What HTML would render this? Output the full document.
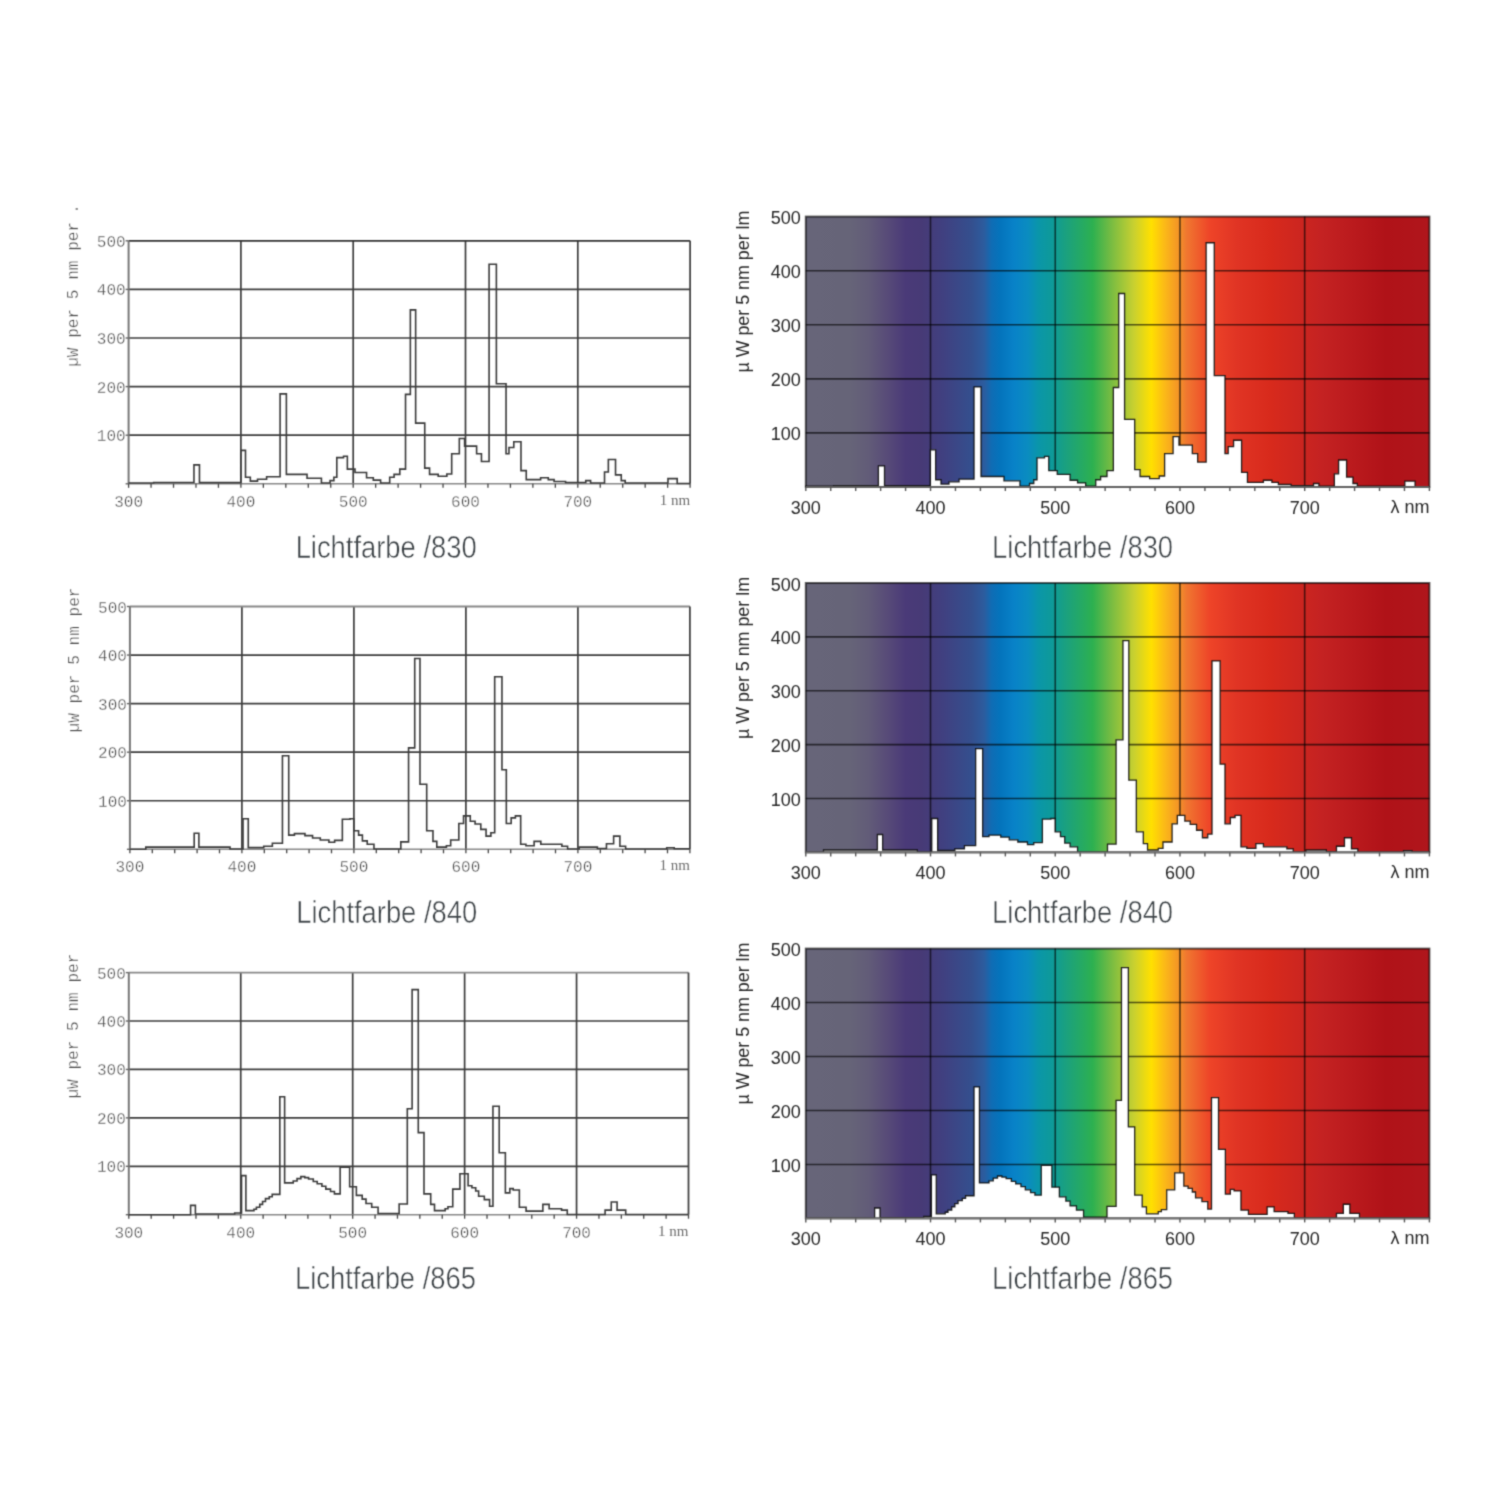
<!DOCTYPE html>
<html><head><meta charset="utf-8"><title>Lichtfarbe spectra</title>
<style>
html,body{margin:0;padding:0;background:#fff;width:1500px;height:1500px;overflow:hidden}
svg{display:block;will-change:transform}
.lm{font-family:"Liberation Mono",monospace;font-size:16px;fill:#505050;stroke:#fff;stroke-width:0.3px;paint-order:fill stroke}
.lm2{font-family:"Liberation Mono",monospace;font-size:16px;fill:#4a4a4a;stroke:#fff;stroke-width:0.3px;paint-order:fill stroke}
.ls{font-family:"Liberation Serif",serif;font-size:15px;fill:#6e6e6e}
.rs{font-family:"Liberation Sans",sans-serif;font-size:18px;fill:#262626}
.tt{font-family:"Liberation Sans",sans-serif;font-size:31px;fill:#3c4246;stroke:#fff;stroke-width:0.5px;paint-order:fill stroke}
</style></head><body>
<svg width="1500" height="1500" viewBox="0 0 1500 1500">
<defs><linearGradient id="spec" x1="0" y1="0" x2="1" y2="0"><stop offset="0.0000" stop-color="#676579"/><stop offset="0.0700" stop-color="#666478"/><stop offset="0.1000" stop-color="#625c78"/><stop offset="0.1320" stop-color="#574a78"/><stop offset="0.1600" stop-color="#4a3a78"/><stop offset="0.1860" stop-color="#473a76"/><stop offset="0.2200" stop-color="#404080"/><stop offset="0.2660" stop-color="#344f8e"/><stop offset="0.2860" stop-color="#2c5c9e"/><stop offset="0.2980" stop-color="#0f6cb4"/><stop offset="0.3120" stop-color="#0474bc"/><stop offset="0.3340" stop-color="#0882c8"/><stop offset="0.3560" stop-color="#0a8cc0"/><stop offset="0.3740" stop-color="#0a96a8"/><stop offset="0.3960" stop-color="#0e9a98"/><stop offset="0.4160" stop-color="#1aa080"/><stop offset="0.4600" stop-color="#2db050"/><stop offset="0.4900" stop-color="#78bc42"/><stop offset="0.5260" stop-color="#c8d030"/><stop offset="0.5540" stop-color="#ffe000"/><stop offset="0.5760" stop-color="#fbb818"/><stop offset="0.6000" stop-color="#f39028"/><stop offset="0.6100" stop-color="#f07830"/><stop offset="0.6480" stop-color="#ee4428"/><stop offset="0.6920" stop-color="#e03424"/><stop offset="0.7440" stop-color="#d82a1c"/><stop offset="0.8280" stop-color="#c42222"/><stop offset="0.9300" stop-color="#b01218"/><stop offset="1.0000" stop-color="#b0161c"/></linearGradient><filter id="soft" x="0" y="0" width="1500" height="1500" filterUnits="userSpaceOnUse" color-interpolation-filters="sRGB"><feConvolveMatrix order="3" kernelMatrix="1 4 1 4 16 4 1 4 1" edgeMode="duplicate" preserveAlpha="true"/></filter></defs>
<rect width="1500" height="1500" fill="#fff"/>
<g filter="url(#soft)">
<rect width="1500" height="1500" fill="#fff"/>
<line x1="128.60" y1="435.20" x2="690.10" y2="435.20" stroke="#3c3c3c" stroke-width="1.7"/>
<line x1="128.60" y1="386.60" x2="690.10" y2="386.60" stroke="#3c3c3c" stroke-width="1.7"/>
<line x1="128.60" y1="338.00" x2="690.10" y2="338.00" stroke="#3c3c3c" stroke-width="1.7"/>
<line x1="128.60" y1="289.40" x2="690.10" y2="289.40" stroke="#3c3c3c" stroke-width="1.7"/>
<line x1="240.90" y1="240.80" x2="240.90" y2="483.80" stroke="#3c3c3c" stroke-width="1.7"/>
<line x1="353.20" y1="240.80" x2="353.20" y2="483.80" stroke="#3c3c3c" stroke-width="1.7"/>
<line x1="465.50" y1="240.80" x2="465.50" y2="483.80" stroke="#3c3c3c" stroke-width="1.7"/>
<line x1="577.80" y1="240.80" x2="577.80" y2="483.80" stroke="#3c3c3c" stroke-width="1.7"/>
<line x1="128.60" y1="240.80" x2="690.10" y2="240.80" stroke="#333" stroke-width="1.8"/>
<line x1="690.10" y1="240.80" x2="690.10" y2="483.80" stroke="#444" stroke-width="1.8"/>
<line x1="128.60" y1="240.80" x2="128.60" y2="483.80" stroke="#777" stroke-width="2"/>
<line x1="128.60" y1="483.80" x2="690.10" y2="483.80" stroke="#888" stroke-width="1.6"/>
<line x1="125.60" y1="483.80" x2="128.60" y2="483.80" stroke="#666" stroke-width="1.4"/>
<line x1="125.60" y1="435.20" x2="128.60" y2="435.20" stroke="#666" stroke-width="1.4"/>
<line x1="125.60" y1="386.60" x2="128.60" y2="386.60" stroke="#666" stroke-width="1.4"/>
<line x1="125.60" y1="338.00" x2="128.60" y2="338.00" stroke="#666" stroke-width="1.4"/>
<line x1="125.60" y1="289.40" x2="128.60" y2="289.40" stroke="#666" stroke-width="1.4"/>
<line x1="125.60" y1="240.80" x2="128.60" y2="240.80" stroke="#666" stroke-width="1.4"/>
<line x1="128.60" y1="483.80" x2="128.60" y2="487.80" stroke="#444" stroke-width="1.3"/>
<line x1="151.06" y1="483.80" x2="151.06" y2="487.80" stroke="#444" stroke-width="1.3"/>
<line x1="173.52" y1="483.80" x2="173.52" y2="487.80" stroke="#444" stroke-width="1.3"/>
<line x1="195.98" y1="483.80" x2="195.98" y2="487.80" stroke="#444" stroke-width="1.3"/>
<line x1="218.44" y1="483.80" x2="218.44" y2="487.80" stroke="#444" stroke-width="1.3"/>
<line x1="240.90" y1="483.80" x2="240.90" y2="487.80" stroke="#444" stroke-width="1.3"/>
<line x1="263.36" y1="483.80" x2="263.36" y2="487.80" stroke="#444" stroke-width="1.3"/>
<line x1="285.82" y1="483.80" x2="285.82" y2="487.80" stroke="#444" stroke-width="1.3"/>
<line x1="308.28" y1="483.80" x2="308.28" y2="487.80" stroke="#444" stroke-width="1.3"/>
<line x1="330.74" y1="483.80" x2="330.74" y2="487.80" stroke="#444" stroke-width="1.3"/>
<line x1="353.20" y1="483.80" x2="353.20" y2="487.80" stroke="#444" stroke-width="1.3"/>
<line x1="375.66" y1="483.80" x2="375.66" y2="487.80" stroke="#444" stroke-width="1.3"/>
<line x1="398.12" y1="483.80" x2="398.12" y2="487.80" stroke="#444" stroke-width="1.3"/>
<line x1="420.58" y1="483.80" x2="420.58" y2="487.80" stroke="#444" stroke-width="1.3"/>
<line x1="443.04" y1="483.80" x2="443.04" y2="487.80" stroke="#444" stroke-width="1.3"/>
<line x1="465.50" y1="483.80" x2="465.50" y2="487.80" stroke="#444" stroke-width="1.3"/>
<line x1="487.96" y1="483.80" x2="487.96" y2="487.80" stroke="#444" stroke-width="1.3"/>
<line x1="510.42" y1="483.80" x2="510.42" y2="487.80" stroke="#444" stroke-width="1.3"/>
<line x1="532.88" y1="483.80" x2="532.88" y2="487.80" stroke="#444" stroke-width="1.3"/>
<line x1="555.34" y1="483.80" x2="555.34" y2="487.80" stroke="#444" stroke-width="1.3"/>
<line x1="577.80" y1="483.80" x2="577.80" y2="487.80" stroke="#444" stroke-width="1.3"/>
<line x1="600.26" y1="483.80" x2="600.26" y2="487.80" stroke="#444" stroke-width="1.3"/>
<line x1="622.72" y1="483.80" x2="622.72" y2="487.80" stroke="#444" stroke-width="1.3"/>
<line x1="645.18" y1="483.80" x2="645.18" y2="487.80" stroke="#444" stroke-width="1.3"/>
<line x1="667.64" y1="483.80" x2="667.64" y2="487.80" stroke="#444" stroke-width="1.3"/>
<line x1="690.10" y1="483.80" x2="690.10" y2="487.80" stroke="#444" stroke-width="1.3"/>
<path d="M128.60,482.93 L153.64,482.93 L153.64,482.49 L193.96,482.49 L193.96,464.85 L199.46,464.85 L199.46,482.63 L240.79,482.63 L240.79,450.41 L245.50,450.41 L245.50,477.29 L250.33,477.29 L250.33,481.13 L257.52,481.13 L257.52,479.18 L266.62,479.18 L266.62,476.80 L280.09,476.80 L280.09,393.89 L286.38,393.89 L286.38,474.37 L307.04,474.37 L307.04,478.21 L321.42,478.21 L321.42,483.02 L330.07,483.02 L330.07,480.64 L333.88,480.64 L333.88,477.29 L336.80,477.29 L336.80,457.60 L343.54,457.60 L343.54,456.20 L347.36,456.20 L347.36,469.12 L355.00,469.12 L355.00,472.48 L366.56,472.48 L366.56,477.73 L373.30,477.73 L373.30,480.16 L380.60,480.16 L380.60,483.02 L389.70,483.02 L389.70,477.29 L394.08,477.29 L394.08,474.37 L399.80,474.37 L399.80,469.12 L405.53,469.12 L405.53,394.38 L410.36,394.38 L410.36,309.91 L415.64,309.91 L415.64,423.10 L424.74,423.10 L424.74,468.15 L429.56,468.15 L429.56,474.37 L438.21,474.37 L438.21,476.32 L446.86,476.32 L446.86,473.93 L451.69,473.93 L451.69,453.77 L459.32,453.77 L459.32,438.46 L464.60,438.46 L464.60,446.13 L476.62,446.13 L476.62,453.77 L481.45,453.77 L481.45,461.44 L489.08,461.44 L489.08,264.32 L496.38,264.32 L496.38,383.68 L506.04,383.68 L506.04,453.77 L508.96,453.77 L508.96,447.54 L513.79,447.54 L513.79,441.81 L520.98,441.81 L520.98,470.58 L526.25,470.58 L526.25,479.67 L540.63,479.67 L540.63,477.73 L548.27,477.73 L548.27,479.67 L554.10,479.67 L554.10,481.56 L565.56,481.56 L565.56,482.54 L579.04,482.54 L579.04,482.54 L585.77,482.54 L585.77,480.64 L590.60,480.64 L590.60,483.02 L604.53,483.02 L604.53,471.99 L608.35,471.99 L608.35,459.55 L615.53,459.55 L615.53,474.86 L621.26,474.86 L621.26,480.64 L625.19,480.64 L625.19,483.02 L667.98,483.02 L667.98,478.60 L677.19,478.60 L677.19,483.46 L690.10,483.46 L690.10,483.46 L690.10,483.46" fill="none" stroke="#3a3a3a" stroke-width="1.6" stroke-linejoin="miter"/>
<text x="125.60" y="441.20" text-anchor="end" class="lm">100</text>
<text x="125.60" y="392.60" text-anchor="end" class="lm">200</text>
<text x="125.60" y="344.00" text-anchor="end" class="lm">300</text>
<text x="125.60" y="295.40" text-anchor="end" class="lm">400</text>
<text x="125.60" y="246.80" text-anchor="end" class="lm">500</text>
<text x="128.60" y="506.80" text-anchor="middle" class="lm">300</text>
<text x="240.90" y="506.80" text-anchor="middle" class="lm">400</text>
<text x="353.20" y="506.80" text-anchor="middle" class="lm">500</text>
<text x="465.50" y="506.80" text-anchor="middle" class="lm">600</text>
<text x="577.80" y="506.80" text-anchor="middle" class="lm">700</text>
<text x="690.10" y="504.80" text-anchor="end" class="ls">1 nm</text>
<text transform="translate(77.60,366.80) rotate(-90)" class="lm2" textLength="145" lengthAdjust="spacingAndGlyphs">µW per 5 nm per</text>
<text transform="translate(77.60,213.80) rotate(-90)" class="lm2">.</text>
<text x="386.15" y="557.80" text-anchor="middle" class="tt" textLength="181" lengthAdjust="spacingAndGlyphs">Lichtfarbe /830</text>
<line x1="129.90" y1="800.74" x2="689.90" y2="800.74" stroke="#3c3c3c" stroke-width="1.7"/>
<line x1="129.90" y1="752.18" x2="689.90" y2="752.18" stroke="#3c3c3c" stroke-width="1.7"/>
<line x1="129.90" y1="703.62" x2="689.90" y2="703.62" stroke="#3c3c3c" stroke-width="1.7"/>
<line x1="129.90" y1="655.06" x2="689.90" y2="655.06" stroke="#3c3c3c" stroke-width="1.7"/>
<line x1="241.90" y1="606.50" x2="241.90" y2="849.30" stroke="#3c3c3c" stroke-width="1.7"/>
<line x1="353.90" y1="606.50" x2="353.90" y2="849.30" stroke="#3c3c3c" stroke-width="1.7"/>
<line x1="465.90" y1="606.50" x2="465.90" y2="849.30" stroke="#3c3c3c" stroke-width="1.7"/>
<line x1="577.90" y1="606.50" x2="577.90" y2="849.30" stroke="#3c3c3c" stroke-width="1.7"/>
<line x1="129.90" y1="606.50" x2="689.90" y2="606.50" stroke="#888" stroke-width="1.8"/>
<line x1="689.90" y1="606.50" x2="689.90" y2="849.30" stroke="#444" stroke-width="1.8"/>
<line x1="129.90" y1="606.50" x2="129.90" y2="849.30" stroke="#777" stroke-width="2"/>
<line x1="129.90" y1="849.30" x2="689.90" y2="849.30" stroke="#888" stroke-width="1.6"/>
<line x1="126.90" y1="849.30" x2="129.90" y2="849.30" stroke="#666" stroke-width="1.4"/>
<line x1="126.90" y1="800.74" x2="129.90" y2="800.74" stroke="#666" stroke-width="1.4"/>
<line x1="126.90" y1="752.18" x2="129.90" y2="752.18" stroke="#666" stroke-width="1.4"/>
<line x1="126.90" y1="703.62" x2="129.90" y2="703.62" stroke="#666" stroke-width="1.4"/>
<line x1="126.90" y1="655.06" x2="129.90" y2="655.06" stroke="#666" stroke-width="1.4"/>
<line x1="126.90" y1="606.50" x2="129.90" y2="606.50" stroke="#666" stroke-width="1.4"/>
<line x1="129.90" y1="849.30" x2="129.90" y2="853.30" stroke="#444" stroke-width="1.3"/>
<line x1="152.30" y1="849.30" x2="152.30" y2="853.30" stroke="#444" stroke-width="1.3"/>
<line x1="174.70" y1="849.30" x2="174.70" y2="853.30" stroke="#444" stroke-width="1.3"/>
<line x1="197.10" y1="849.30" x2="197.10" y2="853.30" stroke="#444" stroke-width="1.3"/>
<line x1="219.50" y1="849.30" x2="219.50" y2="853.30" stroke="#444" stroke-width="1.3"/>
<line x1="241.90" y1="849.30" x2="241.90" y2="853.30" stroke="#444" stroke-width="1.3"/>
<line x1="264.30" y1="849.30" x2="264.30" y2="853.30" stroke="#444" stroke-width="1.3"/>
<line x1="286.70" y1="849.30" x2="286.70" y2="853.30" stroke="#444" stroke-width="1.3"/>
<line x1="309.10" y1="849.30" x2="309.10" y2="853.30" stroke="#444" stroke-width="1.3"/>
<line x1="331.50" y1="849.30" x2="331.50" y2="853.30" stroke="#444" stroke-width="1.3"/>
<line x1="353.90" y1="849.30" x2="353.90" y2="853.30" stroke="#444" stroke-width="1.3"/>
<line x1="376.30" y1="849.30" x2="376.30" y2="853.30" stroke="#444" stroke-width="1.3"/>
<line x1="398.70" y1="849.30" x2="398.70" y2="853.30" stroke="#444" stroke-width="1.3"/>
<line x1="421.10" y1="849.30" x2="421.10" y2="853.30" stroke="#444" stroke-width="1.3"/>
<line x1="443.50" y1="849.30" x2="443.50" y2="853.30" stroke="#444" stroke-width="1.3"/>
<line x1="465.90" y1="849.30" x2="465.90" y2="853.30" stroke="#444" stroke-width="1.3"/>
<line x1="488.30" y1="849.30" x2="488.30" y2="853.30" stroke="#444" stroke-width="1.3"/>
<line x1="510.70" y1="849.30" x2="510.70" y2="853.30" stroke="#444" stroke-width="1.3"/>
<line x1="533.10" y1="849.30" x2="533.10" y2="853.30" stroke="#444" stroke-width="1.3"/>
<line x1="555.50" y1="849.30" x2="555.50" y2="853.30" stroke="#444" stroke-width="1.3"/>
<line x1="577.90" y1="849.30" x2="577.90" y2="853.30" stroke="#444" stroke-width="1.3"/>
<line x1="600.30" y1="849.30" x2="600.30" y2="853.30" stroke="#444" stroke-width="1.3"/>
<line x1="622.70" y1="849.30" x2="622.70" y2="853.30" stroke="#444" stroke-width="1.3"/>
<line x1="645.10" y1="849.30" x2="645.10" y2="853.30" stroke="#444" stroke-width="1.3"/>
<line x1="667.50" y1="849.30" x2="667.50" y2="853.30" stroke="#444" stroke-width="1.3"/>
<line x1="689.90" y1="849.30" x2="689.90" y2="853.30" stroke="#444" stroke-width="1.3"/>
<path d="M129.90,849.30 L145.80,849.30 L145.80,847.11 L194.19,847.11 L194.19,833.18 L198.89,833.18 L198.89,847.11 L230.03,847.11 L230.03,849.06 L243.02,849.06 L243.02,818.76 L248.28,818.76 L248.28,847.60 L263.74,847.60 L263.74,846.19 L272.36,846.19 L272.36,843.28 L282.44,843.28 L282.44,755.82 L288.72,755.82 L288.72,835.12 L294.43,835.12 L294.43,833.66 L304.96,833.66 L304.96,835.61 L312.57,835.61 L312.57,837.99 L320.30,837.99 L320.30,839.93 L328.92,839.93 L328.92,842.31 L334.64,842.31 L334.64,840.41 L342.36,840.41 L342.36,819.24 L349.98,819.24 L349.98,818.76 L353.79,818.76 L353.79,830.80 L358.60,830.80 L358.60,835.12 L362.41,835.12 L362.41,840.90 L367.23,840.90 L367.23,844.25 L373.95,844.25 L373.95,849.06 L374.96,849.06 L374.96,849.06 L400.83,849.06 L400.83,841.87 L408.56,841.87 L408.56,747.86 L414.72,747.86 L414.72,658.46 L419.98,658.46 L419.98,784.18 L426.70,784.18 L426.70,830.80 L432.97,830.80 L432.97,841.38 L436.78,841.38 L436.78,847.11 L446.41,847.11 L446.41,845.71 L450.67,845.71 L450.67,839.93 L458.84,839.93 L458.84,823.56 L463.55,823.56 L463.55,815.89 L470.27,815.89 L470.27,821.18 L475.08,821.18 L475.08,824.05 L480.80,824.05 L480.80,829.34 L486.06,829.34 L486.06,836.09 L490.88,836.09 L490.88,832.74 L494.68,832.74 L494.68,676.72 L501.96,676.72 L501.96,769.76 L506.33,769.76 L506.33,823.56 L511.15,823.56 L511.15,817.83 L515.40,817.83 L515.40,815.89 L520.67,815.89 L520.67,844.25 L525.93,844.25 L525.93,845.71 L534.11,845.71 L534.11,841.38 L540.83,841.38 L540.83,844.25 L561.88,844.25 L561.88,846.19 L567.60,846.19 L567.60,849.06 L579.13,849.06 L579.13,847.11 L597.39,847.11 L597.39,848.57 L606.46,848.57 L606.46,843.76 L613.63,843.76 L613.63,836.09 L619.90,836.09 L619.90,846.19 L625.61,846.19 L625.61,849.06 L666.72,849.06 L666.72,847.70 L674.22,847.70 L674.22,848.77 L689.90,848.77" fill="none" stroke="#3a3a3a" stroke-width="1.6" stroke-linejoin="miter"/>
<text x="126.90" y="806.74" text-anchor="end" class="lm">100</text>
<text x="126.90" y="758.18" text-anchor="end" class="lm">200</text>
<text x="126.90" y="709.62" text-anchor="end" class="lm">300</text>
<text x="126.90" y="661.06" text-anchor="end" class="lm">400</text>
<text x="126.90" y="612.50" text-anchor="end" class="lm">500</text>
<text x="129.90" y="872.30" text-anchor="middle" class="lm">300</text>
<text x="241.90" y="872.30" text-anchor="middle" class="lm">400</text>
<text x="353.90" y="872.30" text-anchor="middle" class="lm">500</text>
<text x="465.90" y="872.30" text-anchor="middle" class="lm">600</text>
<text x="577.90" y="872.30" text-anchor="middle" class="lm">700</text>
<text x="689.90" y="870.30" text-anchor="end" class="ls">1 nm</text>
<text transform="translate(78.90,732.50) rotate(-90)" class="lm2" textLength="145" lengthAdjust="spacingAndGlyphs">µW per 5 nm per</text>
<text x="386.70" y="923.30" text-anchor="middle" class="tt" textLength="181" lengthAdjust="spacingAndGlyphs">Lichtfarbe /840</text>
<line x1="128.80" y1="1166.28" x2="688.50" y2="1166.28" stroke="#3c3c3c" stroke-width="1.7"/>
<line x1="128.80" y1="1117.86" x2="688.50" y2="1117.86" stroke="#3c3c3c" stroke-width="1.7"/>
<line x1="128.80" y1="1069.44" x2="688.50" y2="1069.44" stroke="#3c3c3c" stroke-width="1.7"/>
<line x1="128.80" y1="1021.02" x2="688.50" y2="1021.02" stroke="#3c3c3c" stroke-width="1.7"/>
<line x1="240.74" y1="972.60" x2="240.74" y2="1214.70" stroke="#3c3c3c" stroke-width="1.7"/>
<line x1="352.68" y1="972.60" x2="352.68" y2="1214.70" stroke="#3c3c3c" stroke-width="1.7"/>
<line x1="464.62" y1="972.60" x2="464.62" y2="1214.70" stroke="#3c3c3c" stroke-width="1.7"/>
<line x1="576.56" y1="972.60" x2="576.56" y2="1214.70" stroke="#3c3c3c" stroke-width="1.7"/>
<line x1="128.80" y1="972.60" x2="688.50" y2="972.60" stroke="#888" stroke-width="1.8"/>
<line x1="688.50" y1="972.60" x2="688.50" y2="1214.70" stroke="#444" stroke-width="1.8"/>
<line x1="128.80" y1="972.60" x2="128.80" y2="1214.70" stroke="#777" stroke-width="2"/>
<line x1="128.80" y1="1214.70" x2="688.50" y2="1214.70" stroke="#888" stroke-width="1.6"/>
<line x1="125.80" y1="1214.70" x2="128.80" y2="1214.70" stroke="#666" stroke-width="1.4"/>
<line x1="125.80" y1="1166.28" x2="128.80" y2="1166.28" stroke="#666" stroke-width="1.4"/>
<line x1="125.80" y1="1117.86" x2="128.80" y2="1117.86" stroke="#666" stroke-width="1.4"/>
<line x1="125.80" y1="1069.44" x2="128.80" y2="1069.44" stroke="#666" stroke-width="1.4"/>
<line x1="125.80" y1="1021.02" x2="128.80" y2="1021.02" stroke="#666" stroke-width="1.4"/>
<line x1="125.80" y1="972.60" x2="128.80" y2="972.60" stroke="#666" stroke-width="1.4"/>
<line x1="128.80" y1="1214.70" x2="128.80" y2="1218.70" stroke="#444" stroke-width="1.3"/>
<line x1="151.19" y1="1214.70" x2="151.19" y2="1218.70" stroke="#444" stroke-width="1.3"/>
<line x1="173.58" y1="1214.70" x2="173.58" y2="1218.70" stroke="#444" stroke-width="1.3"/>
<line x1="195.96" y1="1214.70" x2="195.96" y2="1218.70" stroke="#444" stroke-width="1.3"/>
<line x1="218.35" y1="1214.70" x2="218.35" y2="1218.70" stroke="#444" stroke-width="1.3"/>
<line x1="240.74" y1="1214.70" x2="240.74" y2="1218.70" stroke="#444" stroke-width="1.3"/>
<line x1="263.13" y1="1214.70" x2="263.13" y2="1218.70" stroke="#444" stroke-width="1.3"/>
<line x1="285.52" y1="1214.70" x2="285.52" y2="1218.70" stroke="#444" stroke-width="1.3"/>
<line x1="307.90" y1="1214.70" x2="307.90" y2="1218.70" stroke="#444" stroke-width="1.3"/>
<line x1="330.29" y1="1214.70" x2="330.29" y2="1218.70" stroke="#444" stroke-width="1.3"/>
<line x1="352.68" y1="1214.70" x2="352.68" y2="1218.70" stroke="#444" stroke-width="1.3"/>
<line x1="375.07" y1="1214.70" x2="375.07" y2="1218.70" stroke="#444" stroke-width="1.3"/>
<line x1="397.46" y1="1214.70" x2="397.46" y2="1218.70" stroke="#444" stroke-width="1.3"/>
<line x1="419.84" y1="1214.70" x2="419.84" y2="1218.70" stroke="#444" stroke-width="1.3"/>
<line x1="442.23" y1="1214.70" x2="442.23" y2="1218.70" stroke="#444" stroke-width="1.3"/>
<line x1="464.62" y1="1214.70" x2="464.62" y2="1218.70" stroke="#444" stroke-width="1.3"/>
<line x1="487.01" y1="1214.70" x2="487.01" y2="1218.70" stroke="#444" stroke-width="1.3"/>
<line x1="509.40" y1="1214.70" x2="509.40" y2="1218.70" stroke="#444" stroke-width="1.3"/>
<line x1="531.78" y1="1214.70" x2="531.78" y2="1218.70" stroke="#444" stroke-width="1.3"/>
<line x1="554.17" y1="1214.70" x2="554.17" y2="1218.70" stroke="#444" stroke-width="1.3"/>
<line x1="576.56" y1="1214.70" x2="576.56" y2="1218.70" stroke="#444" stroke-width="1.3"/>
<line x1="598.95" y1="1214.70" x2="598.95" y2="1218.70" stroke="#444" stroke-width="1.3"/>
<line x1="621.34" y1="1214.70" x2="621.34" y2="1218.70" stroke="#444" stroke-width="1.3"/>
<line x1="643.72" y1="1214.70" x2="643.72" y2="1218.70" stroke="#444" stroke-width="1.3"/>
<line x1="666.11" y1="1214.70" x2="666.11" y2="1218.70" stroke="#444" stroke-width="1.3"/>
<line x1="688.50" y1="1214.70" x2="688.50" y2="1218.70" stroke="#444" stroke-width="1.3"/>
<path d="M128.80,1214.70 L190.59,1214.70 L190.59,1205.35 L195.40,1205.35 L195.40,1213.97 L234.70,1213.97 L234.70,1213.01 L241.52,1213.01 L241.52,1175.67 L245.89,1175.67 L245.89,1210.63 L253.95,1210.63 L253.95,1209.18 L256.41,1209.18 L256.41,1207.29 L259.77,1207.29 L259.77,1204.39 L262.57,1204.39 L262.57,1201.53 L265.48,1201.53 L265.48,1198.67 L269.28,1198.67 L269.28,1196.74 L272.20,1196.74 L272.20,1194.36 L279.81,1194.36 L279.81,1096.75 L284.62,1096.75 L284.62,1182.89 L293.24,1182.89 L293.24,1180.95 L297.05,1180.95 L297.05,1178.58 L300.85,1178.58 L300.85,1176.64 L304.77,1176.64 L304.77,1177.61 L308.58,1177.61 L308.58,1179.06 L313.28,1179.06 L313.28,1181.44 L317.20,1181.44 L317.20,1183.81 L321.90,1183.81 L321.90,1186.23 L325.81,1186.23 L325.81,1189.09 L330.52,1189.09 L330.52,1191.51 L334.43,1191.51 L334.43,1193.88 L340.14,1193.88 L340.14,1167.10 L349.66,1167.10 L349.66,1186.71 L356.37,1186.71 L356.37,1195.33 L362.19,1195.33 L362.19,1199.16 L366.00,1199.16 L366.00,1203.47 L371.71,1203.47 L371.71,1207.29 L378.09,1207.29 L378.09,1213.49 L399.14,1213.49 L399.14,1203.95 L407.31,1203.95 L407.31,1108.71 L412.12,1108.71 L412.12,989.64 L418.28,989.64 L418.28,1132.63 L423.99,1132.63 L423.99,1193.88 L430.70,1193.88 L430.70,1204.39 L434.51,1204.39 L434.51,1210.63 L445.14,1210.63 L445.14,1208.70 L447.94,1208.70 L447.94,1206.81 L452.75,1206.81 L452.75,1189.09 L459.92,1189.09 L459.92,1173.79 L468.09,1173.79 L468.09,1185.74 L471.90,1185.74 L471.90,1187.68 L475.70,1187.68 L475.70,1191.02 L478.61,1191.02 L478.61,1196.25 L484.32,1196.25 L484.32,1199.64 L489.58,1199.64 L489.58,1206.32 L492.94,1206.32 L492.94,1106.29 L499.21,1106.29 L499.21,1152.72 L505.37,1152.72 L505.37,1192.91 L509.84,1192.91 L509.84,1188.60 L513.20,1188.60 L513.20,1190.05 L519.36,1190.05 L519.36,1207.29 L526.08,1207.29 L526.08,1211.12 L542.87,1211.12 L542.87,1204.39 L549.13,1204.39 L549.13,1208.70 L561.56,1208.70 L561.56,1210.15 L567.27,1210.15 L567.27,1214.46 L605.10,1214.46 L605.10,1210.15 L611.26,1210.15 L611.26,1202.01 L617.08,1202.01 L617.08,1210.15 L625.70,1210.15 L625.70,1214.46 L688.50,1214.46" fill="none" stroke="#3a3a3a" stroke-width="1.6" stroke-linejoin="miter"/>
<text x="125.80" y="1172.28" text-anchor="end" class="lm">100</text>
<text x="125.80" y="1123.86" text-anchor="end" class="lm">200</text>
<text x="125.80" y="1075.44" text-anchor="end" class="lm">300</text>
<text x="125.80" y="1027.02" text-anchor="end" class="lm">400</text>
<text x="125.80" y="978.60" text-anchor="end" class="lm">500</text>
<text x="128.80" y="1237.70" text-anchor="middle" class="lm">300</text>
<text x="240.74" y="1237.70" text-anchor="middle" class="lm">400</text>
<text x="352.68" y="1237.70" text-anchor="middle" class="lm">500</text>
<text x="464.62" y="1237.70" text-anchor="middle" class="lm">600</text>
<text x="576.56" y="1237.70" text-anchor="middle" class="lm">700</text>
<text x="688.50" y="1235.70" text-anchor="end" class="ls">1 nm</text>
<text transform="translate(77.80,1098.60) rotate(-90)" class="lm2" textLength="145" lengthAdjust="spacingAndGlyphs">µW per 5 nm per</text>
<text x="385.45" y="1288.70" text-anchor="middle" class="tt" textLength="181" lengthAdjust="spacingAndGlyphs">Lichtfarbe /865</text>
<rect x="805.80" y="216.60" width="623.60" height="270.40" fill="url(#spec)"/>
<path d="M805.80,487.00 L805.80,486.03 L833.61,486.03 L833.61,485.54 L878.39,485.54 L878.39,465.91 L884.50,465.91 L884.50,485.70 L930.40,485.70 L930.40,449.85 L935.63,449.85 L935.63,479.75 L941.00,479.75 L941.00,484.03 L948.98,484.03 L948.98,481.86 L959.08,481.86 L959.08,479.21 L974.05,479.21 L974.05,386.95 L981.03,386.95 L981.03,476.51 L1003.98,476.51 L1003.98,480.78 L1019.94,480.78 L1019.94,486.13 L1029.55,486.13 L1029.55,483.48 L1033.79,483.48 L1033.79,479.75 L1037.03,479.75 L1037.03,457.85 L1044.51,457.85 L1044.51,456.28 L1048.75,456.28 L1048.75,470.67 L1057.24,470.67 L1057.24,474.40 L1070.08,474.40 L1070.08,480.24 L1077.56,480.24 L1077.56,482.94 L1085.67,482.94 L1085.67,486.13 L1095.77,486.13 L1095.77,479.75 L1100.64,479.75 L1100.64,476.51 L1107.00,476.51 L1107.00,470.67 L1113.36,470.67 L1113.36,387.49 L1118.72,387.49 L1118.72,293.50 L1124.58,293.50 L1124.58,419.45 L1134.69,419.45 L1134.69,469.59 L1140.05,469.59 L1140.05,476.51 L1149.65,476.51 L1149.65,478.67 L1159.26,478.67 L1159.26,476.02 L1164.62,476.02 L1164.62,453.58 L1173.10,453.58 L1173.10,436.54 L1178.96,436.54 L1178.96,445.09 L1192.31,445.09 L1192.31,453.58 L1197.67,453.58 L1197.67,462.12 L1206.15,462.12 L1206.15,242.77 L1214.26,242.77 L1214.26,375.60 L1224.98,375.60 L1224.98,453.58 L1228.23,453.58 L1228.23,446.66 L1233.59,446.66 L1233.59,440.27 L1241.57,440.27 L1241.57,472.29 L1247.43,472.29 L1247.43,482.40 L1263.40,482.40 L1263.40,480.24 L1271.88,480.24 L1271.88,482.40 L1278.36,482.40 L1278.36,484.51 L1291.09,484.51 L1291.09,485.59 L1306.05,485.59 L1306.05,485.59 L1313.54,485.59 L1313.54,483.48 L1318.90,483.48 L1318.90,486.13 L1334.36,486.13 L1334.36,473.86 L1338.60,473.86 L1338.60,460.01 L1346.59,460.01 L1346.59,477.05 L1352.95,477.05 L1352.95,483.48 L1357.31,483.48 L1357.31,486.13 L1404.83,486.13 L1404.83,481.21 L1415.06,481.21 L1415.06,486.62 L1429.40,486.62 L1429.40,486.62 L1429.40,486.62 L1429.40,487.00Z" fill="#fff" stroke="none"/>
<line x1="805.80" y1="432.92" x2="1429.40" y2="432.92" stroke="rgba(0,0,0,0.62)" stroke-width="1.6"/>
<line x1="805.80" y1="378.84" x2="1429.40" y2="378.84" stroke="rgba(0,0,0,0.62)" stroke-width="1.6"/>
<line x1="805.80" y1="324.76" x2="1429.40" y2="324.76" stroke="rgba(0,0,0,0.62)" stroke-width="1.6"/>
<line x1="805.80" y1="270.68" x2="1429.40" y2="270.68" stroke="rgba(0,0,0,0.62)" stroke-width="1.6"/>
<line x1="930.52" y1="216.60" x2="930.52" y2="487.00" stroke="rgba(0,0,0,0.62)" stroke-width="1.6"/>
<line x1="1055.24" y1="216.60" x2="1055.24" y2="487.00" stroke="rgba(0,0,0,0.62)" stroke-width="1.6"/>
<line x1="1179.96" y1="216.60" x2="1179.96" y2="487.00" stroke="rgba(0,0,0,0.62)" stroke-width="1.6"/>
<line x1="1304.68" y1="216.60" x2="1304.68" y2="487.00" stroke="rgba(0,0,0,0.62)" stroke-width="1.6"/>
<path d="M805.80,487.00 L805.80,486.03 L833.61,486.03 L833.61,485.54 L878.39,485.54 L878.39,465.91 L884.50,465.91 L884.50,485.70 L930.40,485.70 L930.40,449.85 L935.63,449.85 L935.63,479.75 L941.00,479.75 L941.00,484.03 L948.98,484.03 L948.98,481.86 L959.08,481.86 L959.08,479.21 L974.05,479.21 L974.05,386.95 L981.03,386.95 L981.03,476.51 L1003.98,476.51 L1003.98,480.78 L1019.94,480.78 L1019.94,486.13 L1029.55,486.13 L1029.55,483.48 L1033.79,483.48 L1033.79,479.75 L1037.03,479.75 L1037.03,457.85 L1044.51,457.85 L1044.51,456.28 L1048.75,456.28 L1048.75,470.67 L1057.24,470.67 L1057.24,474.40 L1070.08,474.40 L1070.08,480.24 L1077.56,480.24 L1077.56,482.94 L1085.67,482.94 L1085.67,486.13 L1095.77,486.13 L1095.77,479.75 L1100.64,479.75 L1100.64,476.51 L1107.00,476.51 L1107.00,470.67 L1113.36,470.67 L1113.36,387.49 L1118.72,387.49 L1118.72,293.50 L1124.58,293.50 L1124.58,419.45 L1134.69,419.45 L1134.69,469.59 L1140.05,469.59 L1140.05,476.51 L1149.65,476.51 L1149.65,478.67 L1159.26,478.67 L1159.26,476.02 L1164.62,476.02 L1164.62,453.58 L1173.10,453.58 L1173.10,436.54 L1178.96,436.54 L1178.96,445.09 L1192.31,445.09 L1192.31,453.58 L1197.67,453.58 L1197.67,462.12 L1206.15,462.12 L1206.15,242.77 L1214.26,242.77 L1214.26,375.60 L1224.98,375.60 L1224.98,453.58 L1228.23,453.58 L1228.23,446.66 L1233.59,446.66 L1233.59,440.27 L1241.57,440.27 L1241.57,472.29 L1247.43,472.29 L1247.43,482.40 L1263.40,482.40 L1263.40,480.24 L1271.88,480.24 L1271.88,482.40 L1278.36,482.40 L1278.36,484.51 L1291.09,484.51 L1291.09,485.59 L1306.05,485.59 L1306.05,485.59 L1313.54,485.59 L1313.54,483.48 L1318.90,483.48 L1318.90,486.13 L1334.36,486.13 L1334.36,473.86 L1338.60,473.86 L1338.60,460.01 L1346.59,460.01 L1346.59,477.05 L1352.95,477.05 L1352.95,483.48 L1357.31,483.48 L1357.31,486.13 L1404.83,486.13 L1404.83,481.21 L1415.06,481.21 L1415.06,486.62 L1429.40,486.62 L1429.40,486.62 L1429.40,486.62 L1429.40,487.00Z" fill="#fff" stroke="rgba(0,0,0,0.85)" stroke-width="1.3"/>
<rect x="805.80" y="216.60" width="623.60" height="270.40" fill="none" stroke="rgba(0,0,0,0.62)" stroke-width="2"/>
<line x1="805.80" y1="487.00" x2="1429.40" y2="487.00" stroke="#777" stroke-width="1.6"/>
<line x1="805.80" y1="487.00" x2="805.80" y2="491.00" stroke="#555" stroke-width="1.4"/>
<line x1="830.74" y1="487.00" x2="830.74" y2="491.00" stroke="#555" stroke-width="1.4"/>
<line x1="855.69" y1="487.00" x2="855.69" y2="491.00" stroke="#555" stroke-width="1.4"/>
<line x1="880.63" y1="487.00" x2="880.63" y2="491.00" stroke="#555" stroke-width="1.4"/>
<line x1="905.58" y1="487.00" x2="905.58" y2="491.00" stroke="#555" stroke-width="1.4"/>
<line x1="930.52" y1="487.00" x2="930.52" y2="491.00" stroke="#555" stroke-width="1.4"/>
<line x1="955.46" y1="487.00" x2="955.46" y2="491.00" stroke="#555" stroke-width="1.4"/>
<line x1="980.41" y1="487.00" x2="980.41" y2="491.00" stroke="#555" stroke-width="1.4"/>
<line x1="1005.35" y1="487.00" x2="1005.35" y2="491.00" stroke="#555" stroke-width="1.4"/>
<line x1="1030.30" y1="487.00" x2="1030.30" y2="491.00" stroke="#555" stroke-width="1.4"/>
<line x1="1055.24" y1="487.00" x2="1055.24" y2="491.00" stroke="#555" stroke-width="1.4"/>
<line x1="1080.18" y1="487.00" x2="1080.18" y2="491.00" stroke="#555" stroke-width="1.4"/>
<line x1="1105.13" y1="487.00" x2="1105.13" y2="491.00" stroke="#555" stroke-width="1.4"/>
<line x1="1130.07" y1="487.00" x2="1130.07" y2="491.00" stroke="#555" stroke-width="1.4"/>
<line x1="1155.02" y1="487.00" x2="1155.02" y2="491.00" stroke="#555" stroke-width="1.4"/>
<line x1="1179.96" y1="487.00" x2="1179.96" y2="491.00" stroke="#555" stroke-width="1.4"/>
<line x1="1204.90" y1="487.00" x2="1204.90" y2="491.00" stroke="#555" stroke-width="1.4"/>
<line x1="1229.85" y1="487.00" x2="1229.85" y2="491.00" stroke="#555" stroke-width="1.4"/>
<line x1="1254.79" y1="487.00" x2="1254.79" y2="491.00" stroke="#555" stroke-width="1.4"/>
<line x1="1279.74" y1="487.00" x2="1279.74" y2="491.00" stroke="#555" stroke-width="1.4"/>
<line x1="1304.68" y1="487.00" x2="1304.68" y2="491.00" stroke="#555" stroke-width="1.4"/>
<line x1="1329.62" y1="487.00" x2="1329.62" y2="491.00" stroke="#555" stroke-width="1.4"/>
<line x1="1354.57" y1="487.00" x2="1354.57" y2="491.00" stroke="#555" stroke-width="1.4"/>
<line x1="1379.51" y1="487.00" x2="1379.51" y2="491.00" stroke="#555" stroke-width="1.4"/>
<line x1="1404.46" y1="487.00" x2="1404.46" y2="491.00" stroke="#555" stroke-width="1.4"/>
<line x1="1429.40" y1="487.00" x2="1429.40" y2="491.00" stroke="#555" stroke-width="1.4"/>
<text x="800.80" y="440.42" text-anchor="end" class="rs">100</text>
<text x="800.80" y="386.34" text-anchor="end" class="rs">200</text>
<text x="800.80" y="332.26" text-anchor="end" class="rs">300</text>
<text x="800.80" y="278.18" text-anchor="end" class="rs">400</text>
<text x="800.80" y="224.10" text-anchor="end" class="rs">500</text>
<text x="805.80" y="514.00" text-anchor="middle" class="rs">300</text>
<text x="930.52" y="514.00" text-anchor="middle" class="rs">400</text>
<text x="1055.24" y="514.00" text-anchor="middle" class="rs">500</text>
<text x="1179.96" y="514.00" text-anchor="middle" class="rs">600</text>
<text x="1304.68" y="514.00" text-anchor="middle" class="rs">700</text>
<text x="1429.40" y="513.00" text-anchor="end" class="rs">λ nm</text>
<text transform="translate(748.80,291.60) rotate(-90)" text-anchor="middle" class="rs" textLength="162" lengthAdjust="spacingAndGlyphs">µ W per 5 nm per lm</text>
<text x="1082.60" y="558.00" text-anchor="middle" class="tt" textLength="181" lengthAdjust="spacingAndGlyphs">Lichtfarbe /830</text>
<rect x="805.80" y="583.00" width="623.60" height="269.40" fill="url(#spec)"/>
<path d="M805.80,852.40 L805.80,852.40 L823.51,852.40 L823.51,849.98 L877.39,849.98 L877.39,834.51 L882.63,834.51 L882.63,849.98 L917.30,849.98 L917.30,852.13 L931.77,852.13 L931.77,818.51 L937.63,818.51 L937.63,850.51 L954.84,850.51 L954.84,848.95 L964.44,848.95 L964.44,845.72 L975.67,845.72 L975.67,748.68 L982.65,748.68 L982.65,836.67 L989.01,836.67 L989.01,835.05 L1000.74,835.05 L1000.74,837.21 L1009.22,837.21 L1009.22,839.85 L1017.82,839.85 L1017.82,842.00 L1027.43,842.00 L1027.43,844.64 L1033.79,844.64 L1033.79,842.54 L1042.39,842.54 L1042.39,819.05 L1050.87,819.05 L1050.87,818.51 L1055.12,818.51 L1055.12,831.87 L1060.48,831.87 L1060.48,836.67 L1064.72,836.67 L1064.72,843.08 L1070.08,843.08 L1070.08,846.80 L1077.56,846.80 L1077.56,852.13 L1078.69,852.13 L1078.69,852.13 L1107.50,852.13 L1107.50,844.16 L1116.10,844.16 L1116.10,739.84 L1122.96,739.84 L1122.96,640.65 L1128.82,640.65 L1128.82,780.15 L1136.31,780.15 L1136.31,831.87 L1143.29,831.87 L1143.29,843.62 L1147.53,843.62 L1147.53,849.98 L1158.26,849.98 L1158.26,848.41 L1163.00,848.41 L1163.00,842.00 L1172.10,842.00 L1172.10,823.84 L1177.34,823.84 L1177.34,815.33 L1184.82,815.33 L1184.82,821.20 L1190.19,821.20 L1190.19,824.38 L1196.55,824.38 L1196.55,830.26 L1202.41,830.26 L1202.41,837.74 L1207.77,837.74 L1207.77,834.03 L1212.01,834.03 L1212.01,660.91 L1220.12,660.91 L1220.12,764.14 L1224.98,764.14 L1224.98,823.84 L1230.35,823.84 L1230.35,817.49 L1235.09,817.49 L1235.09,815.33 L1240.95,815.33 L1240.95,846.80 L1246.81,846.80 L1246.81,848.41 L1255.91,848.41 L1255.91,843.62 L1263.40,843.62 L1263.40,846.80 L1286.85,846.80 L1286.85,848.95 L1293.21,848.95 L1293.21,852.13 L1306.05,852.13 L1306.05,849.98 L1326.38,849.98 L1326.38,851.59 L1336.48,851.59 L1336.48,846.26 L1344.47,846.26 L1344.47,837.74 L1351.45,837.74 L1351.45,848.95 L1357.81,848.95 L1357.81,852.13 L1403.58,852.13 L1403.58,850.62 L1411.94,850.62 L1411.94,851.81 L1429.40,851.81 L1429.40,852.40Z" fill="#fff" stroke="none"/>
<line x1="805.80" y1="798.52" x2="1429.40" y2="798.52" stroke="rgba(0,0,0,0.62)" stroke-width="1.6"/>
<line x1="805.80" y1="744.64" x2="1429.40" y2="744.64" stroke="rgba(0,0,0,0.62)" stroke-width="1.6"/>
<line x1="805.80" y1="690.76" x2="1429.40" y2="690.76" stroke="rgba(0,0,0,0.62)" stroke-width="1.6"/>
<line x1="805.80" y1="636.88" x2="1429.40" y2="636.88" stroke="rgba(0,0,0,0.62)" stroke-width="1.6"/>
<line x1="930.52" y1="583.00" x2="930.52" y2="852.40" stroke="rgba(0,0,0,0.62)" stroke-width="1.6"/>
<line x1="1055.24" y1="583.00" x2="1055.24" y2="852.40" stroke="rgba(0,0,0,0.62)" stroke-width="1.6"/>
<line x1="1179.96" y1="583.00" x2="1179.96" y2="852.40" stroke="rgba(0,0,0,0.62)" stroke-width="1.6"/>
<line x1="1304.68" y1="583.00" x2="1304.68" y2="852.40" stroke="rgba(0,0,0,0.62)" stroke-width="1.6"/>
<path d="M805.80,852.40 L805.80,852.40 L823.51,852.40 L823.51,849.98 L877.39,849.98 L877.39,834.51 L882.63,834.51 L882.63,849.98 L917.30,849.98 L917.30,852.13 L931.77,852.13 L931.77,818.51 L937.63,818.51 L937.63,850.51 L954.84,850.51 L954.84,848.95 L964.44,848.95 L964.44,845.72 L975.67,845.72 L975.67,748.68 L982.65,748.68 L982.65,836.67 L989.01,836.67 L989.01,835.05 L1000.74,835.05 L1000.74,837.21 L1009.22,837.21 L1009.22,839.85 L1017.82,839.85 L1017.82,842.00 L1027.43,842.00 L1027.43,844.64 L1033.79,844.64 L1033.79,842.54 L1042.39,842.54 L1042.39,819.05 L1050.87,819.05 L1050.87,818.51 L1055.12,818.51 L1055.12,831.87 L1060.48,831.87 L1060.48,836.67 L1064.72,836.67 L1064.72,843.08 L1070.08,843.08 L1070.08,846.80 L1077.56,846.80 L1077.56,852.13 L1078.69,852.13 L1078.69,852.13 L1107.50,852.13 L1107.50,844.16 L1116.10,844.16 L1116.10,739.84 L1122.96,739.84 L1122.96,640.65 L1128.82,640.65 L1128.82,780.15 L1136.31,780.15 L1136.31,831.87 L1143.29,831.87 L1143.29,843.62 L1147.53,843.62 L1147.53,849.98 L1158.26,849.98 L1158.26,848.41 L1163.00,848.41 L1163.00,842.00 L1172.10,842.00 L1172.10,823.84 L1177.34,823.84 L1177.34,815.33 L1184.82,815.33 L1184.82,821.20 L1190.19,821.20 L1190.19,824.38 L1196.55,824.38 L1196.55,830.26 L1202.41,830.26 L1202.41,837.74 L1207.77,837.74 L1207.77,834.03 L1212.01,834.03 L1212.01,660.91 L1220.12,660.91 L1220.12,764.14 L1224.98,764.14 L1224.98,823.84 L1230.35,823.84 L1230.35,817.49 L1235.09,817.49 L1235.09,815.33 L1240.95,815.33 L1240.95,846.80 L1246.81,846.80 L1246.81,848.41 L1255.91,848.41 L1255.91,843.62 L1263.40,843.62 L1263.40,846.80 L1286.85,846.80 L1286.85,848.95 L1293.21,848.95 L1293.21,852.13 L1306.05,852.13 L1306.05,849.98 L1326.38,849.98 L1326.38,851.59 L1336.48,851.59 L1336.48,846.26 L1344.47,846.26 L1344.47,837.74 L1351.45,837.74 L1351.45,848.95 L1357.81,848.95 L1357.81,852.13 L1403.58,852.13 L1403.58,850.62 L1411.94,850.62 L1411.94,851.81 L1429.40,851.81 L1429.40,852.40Z" fill="#fff" stroke="rgba(0,0,0,0.85)" stroke-width="1.3"/>
<rect x="805.80" y="583.00" width="623.60" height="269.40" fill="none" stroke="rgba(0,0,0,0.62)" stroke-width="2"/>
<line x1="805.80" y1="852.40" x2="1429.40" y2="852.40" stroke="#777" stroke-width="1.6"/>
<line x1="805.80" y1="852.40" x2="805.80" y2="856.40" stroke="#555" stroke-width="1.4"/>
<line x1="830.74" y1="852.40" x2="830.74" y2="856.40" stroke="#555" stroke-width="1.4"/>
<line x1="855.69" y1="852.40" x2="855.69" y2="856.40" stroke="#555" stroke-width="1.4"/>
<line x1="880.63" y1="852.40" x2="880.63" y2="856.40" stroke="#555" stroke-width="1.4"/>
<line x1="905.58" y1="852.40" x2="905.58" y2="856.40" stroke="#555" stroke-width="1.4"/>
<line x1="930.52" y1="852.40" x2="930.52" y2="856.40" stroke="#555" stroke-width="1.4"/>
<line x1="955.46" y1="852.40" x2="955.46" y2="856.40" stroke="#555" stroke-width="1.4"/>
<line x1="980.41" y1="852.40" x2="980.41" y2="856.40" stroke="#555" stroke-width="1.4"/>
<line x1="1005.35" y1="852.40" x2="1005.35" y2="856.40" stroke="#555" stroke-width="1.4"/>
<line x1="1030.30" y1="852.40" x2="1030.30" y2="856.40" stroke="#555" stroke-width="1.4"/>
<line x1="1055.24" y1="852.40" x2="1055.24" y2="856.40" stroke="#555" stroke-width="1.4"/>
<line x1="1080.18" y1="852.40" x2="1080.18" y2="856.40" stroke="#555" stroke-width="1.4"/>
<line x1="1105.13" y1="852.40" x2="1105.13" y2="856.40" stroke="#555" stroke-width="1.4"/>
<line x1="1130.07" y1="852.40" x2="1130.07" y2="856.40" stroke="#555" stroke-width="1.4"/>
<line x1="1155.02" y1="852.40" x2="1155.02" y2="856.40" stroke="#555" stroke-width="1.4"/>
<line x1="1179.96" y1="852.40" x2="1179.96" y2="856.40" stroke="#555" stroke-width="1.4"/>
<line x1="1204.90" y1="852.40" x2="1204.90" y2="856.40" stroke="#555" stroke-width="1.4"/>
<line x1="1229.85" y1="852.40" x2="1229.85" y2="856.40" stroke="#555" stroke-width="1.4"/>
<line x1="1254.79" y1="852.40" x2="1254.79" y2="856.40" stroke="#555" stroke-width="1.4"/>
<line x1="1279.74" y1="852.40" x2="1279.74" y2="856.40" stroke="#555" stroke-width="1.4"/>
<line x1="1304.68" y1="852.40" x2="1304.68" y2="856.40" stroke="#555" stroke-width="1.4"/>
<line x1="1329.62" y1="852.40" x2="1329.62" y2="856.40" stroke="#555" stroke-width="1.4"/>
<line x1="1354.57" y1="852.40" x2="1354.57" y2="856.40" stroke="#555" stroke-width="1.4"/>
<line x1="1379.51" y1="852.40" x2="1379.51" y2="856.40" stroke="#555" stroke-width="1.4"/>
<line x1="1404.46" y1="852.40" x2="1404.46" y2="856.40" stroke="#555" stroke-width="1.4"/>
<line x1="1429.40" y1="852.40" x2="1429.40" y2="856.40" stroke="#555" stroke-width="1.4"/>
<text x="800.80" y="806.02" text-anchor="end" class="rs">100</text>
<text x="800.80" y="752.14" text-anchor="end" class="rs">200</text>
<text x="800.80" y="698.26" text-anchor="end" class="rs">300</text>
<text x="800.80" y="644.38" text-anchor="end" class="rs">400</text>
<text x="800.80" y="590.50" text-anchor="end" class="rs">500</text>
<text x="805.80" y="879.40" text-anchor="middle" class="rs">300</text>
<text x="930.52" y="879.40" text-anchor="middle" class="rs">400</text>
<text x="1055.24" y="879.40" text-anchor="middle" class="rs">500</text>
<text x="1179.96" y="879.40" text-anchor="middle" class="rs">600</text>
<text x="1304.68" y="879.40" text-anchor="middle" class="rs">700</text>
<text x="1429.40" y="878.40" text-anchor="end" class="rs">λ nm</text>
<text transform="translate(748.80,658.00) rotate(-90)" text-anchor="middle" class="rs" textLength="162" lengthAdjust="spacingAndGlyphs">µ W per 5 nm per lm</text>
<text x="1082.60" y="923.40" text-anchor="middle" class="tt" textLength="181" lengthAdjust="spacingAndGlyphs">Lichtfarbe /840</text>
<rect x="805.80" y="948.60" width="623.60" height="269.80" fill="url(#spec)"/>
<path d="M805.80,1218.40 L805.80,1218.40 L874.65,1218.40 L874.65,1207.99 L880.01,1207.99 L880.01,1217.59 L923.79,1217.59 L923.79,1216.51 L931.39,1216.51 L931.39,1174.91 L936.26,1174.91 L936.26,1213.87 L945.24,1213.87 L945.24,1212.25 L947.98,1212.25 L947.98,1210.14 L951.72,1210.14 L951.72,1206.91 L954.84,1206.91 L954.84,1203.72 L958.08,1203.72 L958.08,1200.54 L962.32,1200.54 L962.32,1198.38 L965.57,1198.38 L965.57,1195.74 L974.05,1195.74 L974.05,1086.95 L979.41,1086.95 L979.41,1182.95 L989.01,1182.95 L989.01,1180.79 L993.25,1180.79 L993.25,1178.15 L997.49,1178.15 L997.49,1175.99 L1001.86,1175.99 L1001.86,1177.07 L1006.10,1177.07 L1006.10,1178.69 L1011.34,1178.69 L1011.34,1181.33 L1015.70,1181.33 L1015.70,1183.97 L1020.94,1183.97 L1020.94,1186.67 L1025.31,1186.67 L1025.31,1189.86 L1030.55,1189.86 L1030.55,1192.55 L1034.91,1192.55 L1034.91,1195.20 L1041.27,1195.20 L1041.27,1165.36 L1051.87,1165.36 L1051.87,1187.21 L1059.36,1187.21 L1059.36,1196.82 L1065.84,1196.82 L1065.84,1201.08 L1070.08,1201.08 L1070.08,1205.88 L1076.44,1205.88 L1076.44,1210.14 L1083.55,1210.14 L1083.55,1217.05 L1107.00,1217.05 L1107.00,1206.42 L1116.10,1206.42 L1116.10,1100.28 L1121.47,1100.28 L1121.47,967.59 L1128.33,967.59 L1128.33,1126.94 L1134.69,1126.94 L1134.69,1195.20 L1142.17,1195.20 L1142.17,1206.91 L1146.41,1206.91 L1146.41,1213.87 L1158.26,1213.87 L1158.26,1211.71 L1161.38,1211.71 L1161.38,1209.60 L1166.74,1209.60 L1166.74,1189.86 L1174.72,1189.86 L1174.72,1172.80 L1183.83,1172.80 L1183.83,1186.13 L1188.07,1186.13 L1188.07,1188.29 L1192.31,1188.29 L1192.31,1192.01 L1195.55,1192.01 L1195.55,1197.84 L1201.91,1197.84 L1201.91,1201.62 L1207.77,1201.62 L1207.77,1209.06 L1211.51,1209.06 L1211.51,1097.58 L1218.50,1097.58 L1218.50,1149.33 L1225.36,1149.33 L1225.36,1194.12 L1230.35,1194.12 L1230.35,1189.32 L1234.09,1189.32 L1234.09,1190.93 L1240.95,1190.93 L1240.95,1210.14 L1248.43,1210.14 L1248.43,1214.41 L1267.14,1214.41 L1267.14,1206.91 L1274.12,1206.91 L1274.12,1211.71 L1287.97,1211.71 L1287.97,1213.33 L1294.33,1213.33 L1294.33,1218.13 L1336.48,1218.13 L1336.48,1213.33 L1343.34,1213.33 L1343.34,1204.26 L1349.83,1204.26 L1349.83,1213.33 L1359.43,1213.33 L1359.43,1218.13 L1429.40,1218.13 L1429.40,1218.40Z" fill="#fff" stroke="none"/>
<line x1="805.80" y1="1164.44" x2="1429.40" y2="1164.44" stroke="rgba(0,0,0,0.62)" stroke-width="1.6"/>
<line x1="805.80" y1="1110.48" x2="1429.40" y2="1110.48" stroke="rgba(0,0,0,0.62)" stroke-width="1.6"/>
<line x1="805.80" y1="1056.52" x2="1429.40" y2="1056.52" stroke="rgba(0,0,0,0.62)" stroke-width="1.6"/>
<line x1="805.80" y1="1002.56" x2="1429.40" y2="1002.56" stroke="rgba(0,0,0,0.62)" stroke-width="1.6"/>
<line x1="930.52" y1="948.60" x2="930.52" y2="1218.40" stroke="rgba(0,0,0,0.62)" stroke-width="1.6"/>
<line x1="1055.24" y1="948.60" x2="1055.24" y2="1218.40" stroke="rgba(0,0,0,0.62)" stroke-width="1.6"/>
<line x1="1179.96" y1="948.60" x2="1179.96" y2="1218.40" stroke="rgba(0,0,0,0.62)" stroke-width="1.6"/>
<line x1="1304.68" y1="948.60" x2="1304.68" y2="1218.40" stroke="rgba(0,0,0,0.62)" stroke-width="1.6"/>
<path d="M805.80,1218.40 L805.80,1218.40 L874.65,1218.40 L874.65,1207.99 L880.01,1207.99 L880.01,1217.59 L923.79,1217.59 L923.79,1216.51 L931.39,1216.51 L931.39,1174.91 L936.26,1174.91 L936.26,1213.87 L945.24,1213.87 L945.24,1212.25 L947.98,1212.25 L947.98,1210.14 L951.72,1210.14 L951.72,1206.91 L954.84,1206.91 L954.84,1203.72 L958.08,1203.72 L958.08,1200.54 L962.32,1200.54 L962.32,1198.38 L965.57,1198.38 L965.57,1195.74 L974.05,1195.74 L974.05,1086.95 L979.41,1086.95 L979.41,1182.95 L989.01,1182.95 L989.01,1180.79 L993.25,1180.79 L993.25,1178.15 L997.49,1178.15 L997.49,1175.99 L1001.86,1175.99 L1001.86,1177.07 L1006.10,1177.07 L1006.10,1178.69 L1011.34,1178.69 L1011.34,1181.33 L1015.70,1181.33 L1015.70,1183.97 L1020.94,1183.97 L1020.94,1186.67 L1025.31,1186.67 L1025.31,1189.86 L1030.55,1189.86 L1030.55,1192.55 L1034.91,1192.55 L1034.91,1195.20 L1041.27,1195.20 L1041.27,1165.36 L1051.87,1165.36 L1051.87,1187.21 L1059.36,1187.21 L1059.36,1196.82 L1065.84,1196.82 L1065.84,1201.08 L1070.08,1201.08 L1070.08,1205.88 L1076.44,1205.88 L1076.44,1210.14 L1083.55,1210.14 L1083.55,1217.05 L1107.00,1217.05 L1107.00,1206.42 L1116.10,1206.42 L1116.10,1100.28 L1121.47,1100.28 L1121.47,967.59 L1128.33,967.59 L1128.33,1126.94 L1134.69,1126.94 L1134.69,1195.20 L1142.17,1195.20 L1142.17,1206.91 L1146.41,1206.91 L1146.41,1213.87 L1158.26,1213.87 L1158.26,1211.71 L1161.38,1211.71 L1161.38,1209.60 L1166.74,1209.60 L1166.74,1189.86 L1174.72,1189.86 L1174.72,1172.80 L1183.83,1172.80 L1183.83,1186.13 L1188.07,1186.13 L1188.07,1188.29 L1192.31,1188.29 L1192.31,1192.01 L1195.55,1192.01 L1195.55,1197.84 L1201.91,1197.84 L1201.91,1201.62 L1207.77,1201.62 L1207.77,1209.06 L1211.51,1209.06 L1211.51,1097.58 L1218.50,1097.58 L1218.50,1149.33 L1225.36,1149.33 L1225.36,1194.12 L1230.35,1194.12 L1230.35,1189.32 L1234.09,1189.32 L1234.09,1190.93 L1240.95,1190.93 L1240.95,1210.14 L1248.43,1210.14 L1248.43,1214.41 L1267.14,1214.41 L1267.14,1206.91 L1274.12,1206.91 L1274.12,1211.71 L1287.97,1211.71 L1287.97,1213.33 L1294.33,1213.33 L1294.33,1218.13 L1336.48,1218.13 L1336.48,1213.33 L1343.34,1213.33 L1343.34,1204.26 L1349.83,1204.26 L1349.83,1213.33 L1359.43,1213.33 L1359.43,1218.13 L1429.40,1218.13 L1429.40,1218.40Z" fill="#fff" stroke="rgba(0,0,0,0.85)" stroke-width="1.3"/>
<rect x="805.80" y="948.60" width="623.60" height="269.80" fill="none" stroke="rgba(0,0,0,0.62)" stroke-width="2"/>
<line x1="805.80" y1="1218.40" x2="1429.40" y2="1218.40" stroke="#777" stroke-width="1.6"/>
<line x1="805.80" y1="1218.40" x2="805.80" y2="1222.40" stroke="#555" stroke-width="1.4"/>
<line x1="830.74" y1="1218.40" x2="830.74" y2="1222.40" stroke="#555" stroke-width="1.4"/>
<line x1="855.69" y1="1218.40" x2="855.69" y2="1222.40" stroke="#555" stroke-width="1.4"/>
<line x1="880.63" y1="1218.40" x2="880.63" y2="1222.40" stroke="#555" stroke-width="1.4"/>
<line x1="905.58" y1="1218.40" x2="905.58" y2="1222.40" stroke="#555" stroke-width="1.4"/>
<line x1="930.52" y1="1218.40" x2="930.52" y2="1222.40" stroke="#555" stroke-width="1.4"/>
<line x1="955.46" y1="1218.40" x2="955.46" y2="1222.40" stroke="#555" stroke-width="1.4"/>
<line x1="980.41" y1="1218.40" x2="980.41" y2="1222.40" stroke="#555" stroke-width="1.4"/>
<line x1="1005.35" y1="1218.40" x2="1005.35" y2="1222.40" stroke="#555" stroke-width="1.4"/>
<line x1="1030.30" y1="1218.40" x2="1030.30" y2="1222.40" stroke="#555" stroke-width="1.4"/>
<line x1="1055.24" y1="1218.40" x2="1055.24" y2="1222.40" stroke="#555" stroke-width="1.4"/>
<line x1="1080.18" y1="1218.40" x2="1080.18" y2="1222.40" stroke="#555" stroke-width="1.4"/>
<line x1="1105.13" y1="1218.40" x2="1105.13" y2="1222.40" stroke="#555" stroke-width="1.4"/>
<line x1="1130.07" y1="1218.40" x2="1130.07" y2="1222.40" stroke="#555" stroke-width="1.4"/>
<line x1="1155.02" y1="1218.40" x2="1155.02" y2="1222.40" stroke="#555" stroke-width="1.4"/>
<line x1="1179.96" y1="1218.40" x2="1179.96" y2="1222.40" stroke="#555" stroke-width="1.4"/>
<line x1="1204.90" y1="1218.40" x2="1204.90" y2="1222.40" stroke="#555" stroke-width="1.4"/>
<line x1="1229.85" y1="1218.40" x2="1229.85" y2="1222.40" stroke="#555" stroke-width="1.4"/>
<line x1="1254.79" y1="1218.40" x2="1254.79" y2="1222.40" stroke="#555" stroke-width="1.4"/>
<line x1="1279.74" y1="1218.40" x2="1279.74" y2="1222.40" stroke="#555" stroke-width="1.4"/>
<line x1="1304.68" y1="1218.40" x2="1304.68" y2="1222.40" stroke="#555" stroke-width="1.4"/>
<line x1="1329.62" y1="1218.40" x2="1329.62" y2="1222.40" stroke="#555" stroke-width="1.4"/>
<line x1="1354.57" y1="1218.40" x2="1354.57" y2="1222.40" stroke="#555" stroke-width="1.4"/>
<line x1="1379.51" y1="1218.40" x2="1379.51" y2="1222.40" stroke="#555" stroke-width="1.4"/>
<line x1="1404.46" y1="1218.40" x2="1404.46" y2="1222.40" stroke="#555" stroke-width="1.4"/>
<line x1="1429.40" y1="1218.40" x2="1429.40" y2="1222.40" stroke="#555" stroke-width="1.4"/>
<text x="800.80" y="1171.94" text-anchor="end" class="rs">100</text>
<text x="800.80" y="1117.98" text-anchor="end" class="rs">200</text>
<text x="800.80" y="1064.02" text-anchor="end" class="rs">300</text>
<text x="800.80" y="1010.06" text-anchor="end" class="rs">400</text>
<text x="800.80" y="956.10" text-anchor="end" class="rs">500</text>
<text x="805.80" y="1245.40" text-anchor="middle" class="rs">300</text>
<text x="930.52" y="1245.40" text-anchor="middle" class="rs">400</text>
<text x="1055.24" y="1245.40" text-anchor="middle" class="rs">500</text>
<text x="1179.96" y="1245.40" text-anchor="middle" class="rs">600</text>
<text x="1304.68" y="1245.40" text-anchor="middle" class="rs">700</text>
<text x="1429.40" y="1244.40" text-anchor="end" class="rs">λ nm</text>
<text transform="translate(748.80,1023.60) rotate(-90)" text-anchor="middle" class="rs" textLength="162" lengthAdjust="spacingAndGlyphs">µ W per 5 nm per lm</text>
<text x="1082.60" y="1289.40" text-anchor="middle" class="tt" textLength="181" lengthAdjust="spacingAndGlyphs">Lichtfarbe /865</text>
</g>
</svg></body></html>
